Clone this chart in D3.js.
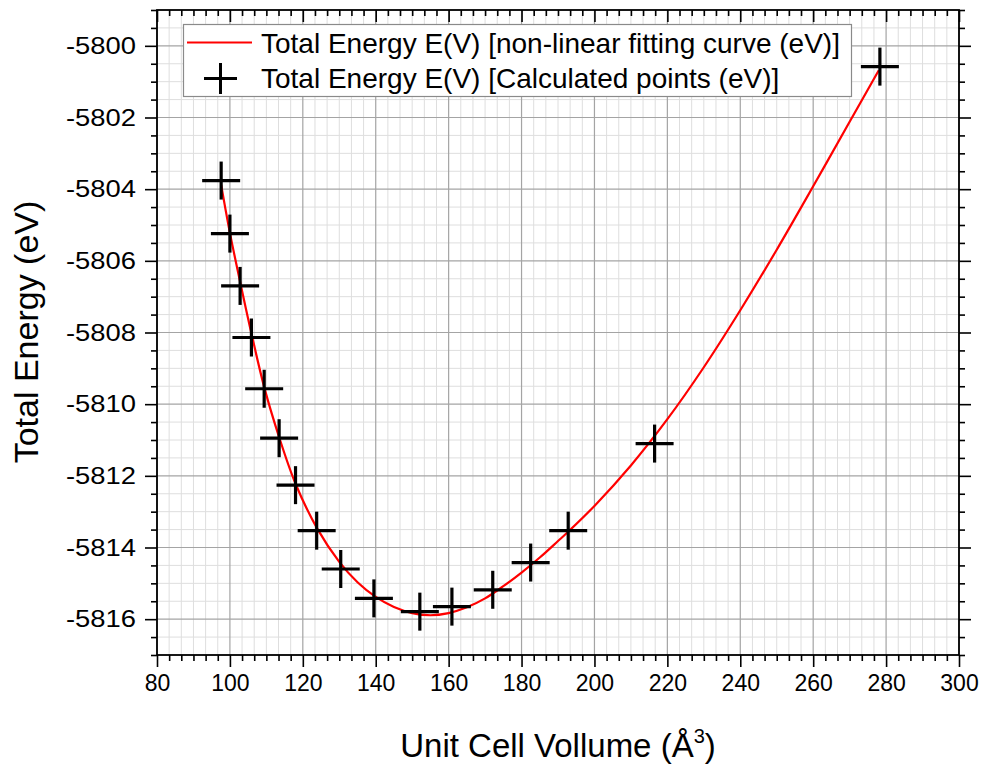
<!DOCTYPE html>
<html>
<head>
<meta charset="utf-8">
<script src="https://cdn.jsdelivr.net/npm/d3@7"></script>
<style>
  html, body { margin: 0; padding: 0; background: #fff; }
  svg { display: block; font-family: "Liberation Sans", Arial, sans-serif; }
</style>
</head>
<body>
<svg id="chart" width="985" height="765"></svg>
<script>
// Calculated total energies per unit cell volume
const volumes  = [97.6, 100.0, 102.8, 105.9, 109.4, 113.5, 118.0, 123.8, 130.4, 139.5,
                  152.1, 160.9, 172.1, 182.5, 192.8, 216.5, 278.3];
const energies = [-5803.76, -5805.24, -5806.70, -5808.14, -5809.57, -5810.95, -5812.26,
                  -5813.53, -5814.60, -5815.42, -5815.79, -5815.65, -5815.18, -5814.42,
                  -5813.53, -5811.10, -5800.58];

// Fitted E(V) curve, sampled along the volume axis
const fitV = [97.6, 100, 103, 106, 109.5, 113.5, 118, 124, 130, 135, 140, 145, 150, 155,
              160, 165, 170, 175, 180, 185, 190, 193, 200, 210, 220, 230, 240,
              250, 260, 270, 278];
const fitE = [-5803.88, -5805.22, -5806.68, -5808.07, -5809.56, -5810.92, -5812.22,
              -5813.48, -5814.40, -5814.97, -5815.38, -5815.66, -5815.83, -5815.89,
              -5815.83, -5815.67, -5815.42, -5815.08, -5814.70, -5814.28, -5813.82,
              -5813.54, -5812.84, -5811.71, -5810.42, -5808.97, -5807.38,
              -5805.69, -5803.92, -5802.12, -5800.68];

const xTickValues = [80, 100, 120, 140, 160, 180, 200, 220, 240, 260, 280, 300];
const yTickValues = [-5800, -5802, -5804, -5806, -5808, -5810, -5812, -5814, -5816];
const xMinorStep = 20 / 6;
const yMinorStep = 0.5;

const legendLabels = [
  "Total Energy E(V) [non-linear fitting curve (eV)]",
  "Total Energy E(V) [Calculated points (eV)]"
];
const xTitle = "Unit Cell Vollume (Å";
const yTitle = "Total Energy (eV)";

const svg = d3.select("#chart");
const plot = { left: 157, right: 959, top: 10, bottom: 655 };

const x = d3.scaleLinear().domain([80, 300]).range([plot.left, plot.right]);
const y = d3.scaleLinear().domain([-5817, -5799]).range([plot.bottom, plot.top]);

const isMajor = (v, step) => Math.abs(v / step - Math.round(v / step)) < 1e-6;
const xMinor = d3.range(0, 67).map(i => 80 + i * xMinorStep).filter(v => v < 300 - 1e-6 && !isMajor(v - 80, 20));
const yMinor = d3.range(0, 37).map(i => -5817 + i * yMinorStep).filter(v => v <= -5799 + 1e-6 && !isMajor(v, 2));

// grid: minor first, then major
const grid = svg.append("g");
grid.selectAll(".gxm").data(xMinor).join("line")
  .attr("x1", d => x(d)).attr("x2", d => x(d))
  .attr("y1", plot.top).attr("y2", plot.bottom)
  .attr("stroke", "#dedede").attr("stroke-width", 1);
grid.selectAll(".gym").data(yMinor).join("line")
  .attr("y1", d => y(d)).attr("y2", d => y(d))
  .attr("x1", plot.left).attr("x2", plot.right)
  .attr("stroke", "#dedede").attr("stroke-width", 1);
grid.selectAll(".gxM").data(xTickValues).join("line")
  .attr("x1", d => x(d)).attr("x2", d => x(d))
  .attr("y1", plot.top).attr("y2", plot.bottom)
  .attr("stroke", "#a4a4a4").attr("stroke-width", 1.2);
grid.selectAll(".gyM").data(yTickValues).join("line")
  .attr("y1", d => y(d)).attr("y2", d => y(d))
  .attr("x1", plot.left).attr("x2", plot.right)
  .attr("stroke", "#a4a4a4").attr("stroke-width", 1.2);

// axes: outward ticks on bottom/left, inward on top/right
const fmt = d => String(d);
function styleAxis(g) {
  g.selectAll(".domain").remove();
  g.selectAll(".tick line").attr("stroke", "#000").attr("stroke-width", 1.6);
}
const major = 12, minor = 6;

svg.append("g").attr("transform", `translate(0,${plot.bottom})`)
  .call(d3.axisBottom(x).tickValues(xMinor).tickSize(minor).tickFormat("")).call(styleAxis);
svg.append("g").attr("transform", `translate(0,${plot.bottom})`)
  .call(d3.axisBottom(x).tickValues(xTickValues).tickSize(major).tickPadding(8).tickFormat(fmt))
  .call(styleAxis)
  .call(g => g.selectAll("text").attr("font-size", 23).attr("fill", "#000")
    .attr("font-family", "Liberation Sans, Arial, sans-serif"));

svg.append("g").attr("transform", `translate(0,${plot.top})`)
  .call(d3.axisBottom(x).tickValues(xMinor).tickSize(minor).tickFormat("")).call(styleAxis);
svg.append("g").attr("transform", `translate(0,${plot.top})`)
  .call(d3.axisBottom(x).tickValues(xTickValues).tickSize(major).tickFormat("")).call(styleAxis);

svg.append("g").attr("transform", `translate(${plot.left},0)`)
  .call(d3.axisLeft(y).tickValues(yMinor).tickSize(minor).tickFormat("")).call(styleAxis);
svg.append("g").attr("transform", `translate(${plot.left},0)`)
  .call(d3.axisLeft(y).tickValues(yTickValues).tickSize(major).tickPadding(9).tickFormat(fmt))
  .call(styleAxis)
  .call(g => g.selectAll("text").attr("font-size", 23.5).attr("fill", "#000")
    .attr("textLength", 70).attr("lengthAdjust", "spacingAndGlyphs")
    .attr("font-family", "Liberation Sans, Arial, sans-serif"));

svg.append("g").attr("transform", `translate(${plot.right},0)`)
  .call(d3.axisLeft(y).tickValues(yMinor).tickSize(-minor).tickFormat("")).call(styleAxis);
svg.append("g").attr("transform", `translate(${plot.right},0)`)
  .call(d3.axisLeft(y).tickValues(yTickValues).tickSize(-major).tickFormat("")).call(styleAxis);

// frame
svg.append("rect")
  .attr("x", plot.left).attr("y", plot.top)
  .attr("width", plot.right - plot.left).attr("height", plot.bottom - plot.top)
  .attr("fill", "none").attr("stroke", "#000").attr("stroke-width", 1.8);

// fitted curve
const line = d3.line().x((d, i) => x(fitV[i])).y(d => y(d)).curve(d3.curveCatmullRom.alpha(0.5));
svg.append("path").datum(fitE)
  .attr("d", line)
  .attr("fill", "none").attr("stroke", "#ff0000").attr("stroke-width", 2.2);

// calculated points as plus markers
const half = 19;
const pts = svg.append("g").attr("stroke", "#000").attr("stroke-width", 3.2).attr("stroke-linecap", "butt");
volumes.forEach((v, i) => {
  const cx = x(v), cy = y(energies[i]);
  pts.append("line").attr("x1", cx - half).attr("x2", cx + half).attr("y1", cy).attr("y2", cy);
  pts.append("line").attr("x1", cx).attr("x2", cx).attr("y1", cy - half).attr("y2", cy + half);
});

// legend
const lg = svg.append("g");
lg.append("rect").attr("x", 183.5).attr("y", 24.5).attr("width", 668).attr("height", 72)
  .attr("fill", "#fff").attr("stroke", "#8a8a8a").attr("stroke-width", 1.2);
lg.append("line").attr("x1", 187).attr("x2", 252).attr("y1", 42.5).attr("y2", 42.5)
  .attr("stroke", "#ff0000").attr("stroke-width", 2.2);
lg.append("line").attr("x1", 204).attr("x2", 237).attr("y1", 78.5).attr("y2", 78.5)
  .attr("stroke", "#000").attr("stroke-width", 3);
lg.append("line").attr("x1", 220.5).attr("x2", 220.5).attr("y1", 63).attr("y2", 94)
  .attr("stroke", "#000").attr("stroke-width", 3);
lg.selectAll("text.lab").data(legendLabels).join("text")
  .attr("x", 261).attr("y", (d, i) => 52.5 + i * 35)
  .attr("font-size", 28).attr("fill", "#000").text(d => d);

// axis titles
const xt = svg.append("text").attr("x", 558).attr("y", 757).attr("text-anchor", "middle")
  .attr("font-size", 33).attr("fill", "#000");
xt.append("tspan").text(xTitle);
xt.append("tspan").attr("font-size", 20).attr("dy", -14).text("3");
xt.append("tspan").attr("dy", 14).text(")");

svg.append("text").attr("transform", "translate(38,332) rotate(-90)")
  .attr("text-anchor", "middle").attr("font-size", 34).attr("fill", "#000").text(yTitle);
</script>
</body>
</html>
